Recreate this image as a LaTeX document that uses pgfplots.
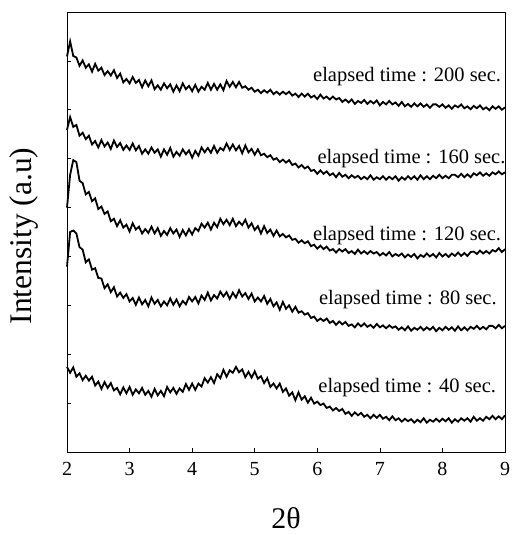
\documentclass[border=0pt]{standalone}
\usepackage{fontspec}
\setmainfont{Liberation Serif}
\usepackage{pgfplots}
\usepackage{pgfplotstable}
\pgfplotsset{compat=1.18}

% XRD patterns, one column per elapsed time (a=40 s ... e=200 s)
\pgfplotstableread{
x a b c d e
2.00 1.74 3.79 5.00 6.59 8.09
2.05 1.62 4.50 5.67 6.85 8.40
2.10 1.73 4.53 5.97 6.65 8.10
2.15 1.54 4.47 5.93 6.69 8.07
2.20 1.61 4.19 5.55 6.47 7.90
2.25 1.47 4.14 5.50 6.53 8.01
2.30 1.56 3.88 5.27 6.40 7.86
2.35 1.46 3.94 5.32 6.47 7.93
2.40 1.54 3.73 5.13 6.29 7.78
2.45 1.36 3.76 5.19 6.36 7.94
2.50 1.44 3.56 4.97 6.23 7.80
2.55 1.29 3.55 5.02 6.38 7.86
2.60 1.43 3.35 4.87 6.25 7.71
2.65 1.31 3.43 4.92 6.33 7.79
2.70 1.41 3.27 4.72 6.20 7.70
2.75 1.26 3.37 4.77 6.37 7.81
2.80 1.31 3.18 4.62 6.24 7.65
2.85 1.18 3.26 4.74 6.32 7.74
2.90 1.32 3.15 4.59 6.18 7.56
2.95 1.20 3.23 4.65 6.27 7.63
3.00 1.33 3.08 4.51 6.18 7.54
3.05 1.17 3.15 4.68 6.31 7.67
3.10 1.28 3.01 4.55 6.17 7.55
3.15 1.20 3.16 4.61 6.26 7.61
3.20 1.31 3.02 4.47 6.10 7.46
3.25 1.17 3.11 4.56 6.19 7.60
3.30 1.25 2.98 4.48 6.10 7.48
3.35 1.13 3.16 4.61 6.23 7.60
3.40 1.29 3.03 4.47 6.12 7.42
3.45 1.16 3.11 4.58 6.19 7.50
3.50 1.25 2.98 4.42 6.04 7.41
3.55 1.14 3.08 4.52 6.19 7.54
3.60 1.33 3.00 4.44 6.08 7.44
3.65 1.22 3.14 4.58 6.22 7.52
3.70 1.31 3.01 4.47 6.04 7.37
3.75 1.19 3.12 4.55 6.14 7.50
3.80 1.30 2.98 4.40 6.06 7.38
3.85 1.23 3.09 4.54 6.19 7.54
3.90 1.39 3.02 4.43 6.09 7.42
3.95 1.27 3.17 4.56 6.17 7.49
4.00 1.40 3.08 4.45 6.02 7.38
4.05 1.27 3.17 4.58 6.16 7.51
4.10 1.40 3.04 4.52 6.06 7.37
4.15 1.34 3.20 4.67 6.23 7.47
4.20 1.51 3.11 4.59 6.13 7.41
4.25 1.42 3.26 4.69 6.22 7.55
4.30 1.53 3.10 4.55 6.12 7.41
4.35 1.41 3.21 4.69 6.26 7.53
4.40 1.59 3.14 4.60 6.12 7.41
4.45 1.51 3.28 4.77 6.22 7.52
4.50 1.68 3.18 4.66 6.17 7.40
4.55 1.54 3.27 4.75 6.31 7.59
4.60 1.67 3.13 4.64 6.18 7.47
4.65 1.62 3.26 4.77 6.29 7.57
4.70 1.74 3.16 4.62 6.17 7.46
4.75 1.63 3.31 4.71 6.26 7.57
4.80 1.69 3.18 4.64 6.11 7.45
4.85 1.53 3.25 4.75 6.27 7.48
4.90 1.64 3.13 4.59 6.13 7.41
4.95 1.52 3.24 4.68 6.20 7.45
5.00 1.65 3.08 4.54 6.08 7.37
5.05 1.50 3.16 4.62 6.19 7.41
5.10 1.55 3.08 4.47 6.07 7.34
5.15 1.41 3.19 4.62 6.10 7.40
5.20 1.51 3.03 4.48 6.03 7.35
5.25 1.33 3.13 4.55 6.07 7.41
5.30 1.40 2.98 4.42 5.98 7.32
5.35 1.30 3.06 4.53 6.01 7.37
5.40 1.40 2.91 4.41 5.93 7.31
5.45 1.23 3.07 4.46 5.98 7.37
5.50 1.30 2.93 4.39 5.92 7.32
5.55 1.15 3.00 4.43 5.97 7.37
5.60 1.22 2.87 4.34 5.87 7.29
5.65 1.06 2.97 4.36 5.90 7.33
5.70 1.22 2.85 4.28 5.82 7.26
5.75 1.07 2.88 4.33 5.87 7.33
5.80 1.14 2.81 4.27 5.80 7.27
5.85 1.01 2.84 4.31 5.84 7.33
5.90 1.11 2.74 4.21 5.75 7.25
5.95 0.99 2.77 4.24 5.77 7.29
6.00 1.03 2.68 4.16 5.69 7.22
6.05 0.96 2.73 4.22 5.76 7.31
6.10 0.99 2.68 4.15 5.69 7.23
6.15 0.90 2.73 4.20 5.74 7.27
6.20 0.93 2.64 4.12 5.66 7.21
6.25 0.85 2.68 4.15 5.70 7.27
6.30 0.90 2.60 4.08 5.62 7.21
6.35 0.84 2.67 4.15 5.71 7.24
6.40 0.88 2.61 4.10 5.63 7.16
6.45 0.78 2.66 4.15 5.67 7.21
6.50 0.82 2.58 4.07 5.60 7.15
6.55 0.74 2.61 4.11 5.66 7.21
6.60 0.81 2.55 4.05 5.61 7.12
6.65 0.75 2.63 4.14 5.65 7.18
6.70 0.80 2.57 4.06 5.58 7.14
6.75 0.72 2.63 4.11 5.63 7.20
6.80 0.76 2.56 4.05 5.58 7.12
6.85 0.69 2.60 4.11 5.66 7.18
6.90 0.76 2.54 4.06 5.57 7.13
6.95 0.70 2.62 4.09 5.62 7.19
7.00 0.76 2.55 4.02 5.58 7.09
7.05 0.68 2.59 4.07 5.64 7.16
7.10 0.72 2.53 4.02 5.57 7.11
7.15 0.65 2.59 4.09 5.63 7.18
7.20 0.73 2.54 4.00 5.58 7.11
7.25 0.65 2.57 4.05 5.64 7.15
7.30 0.69 2.50 4.01 5.55 7.08
7.35 0.62 2.55 4.06 5.62 7.16
7.40 0.68 2.49 3.98 5.57 7.07
7.45 0.63 2.57 4.04 5.64 7.12
7.50 0.67 2.48 3.99 5.58 7.06
7.55 0.60 2.54 4.05 5.64 7.13
7.60 0.66 2.50 3.96 5.57 7.07
7.65 0.61 2.56 4.03 5.66 7.13
7.70 0.69 2.49 3.99 5.58 7.06
7.75 0.60 2.55 4.06 5.64 7.11
7.80 0.66 2.50 4.00 5.58 7.04
7.85 0.62 2.56 4.05 5.65 7.11
7.90 0.68 2.47 3.98 5.60 7.11
7.95 0.62 2.54 4.07 5.67 7.06
8.00 0.68 2.49 4.00 5.60 7.11
8.05 0.63 2.56 4.05 5.65 7.04
8.10 0.69 2.50 3.99 5.60 7.09
8.15 0.60 2.55 4.06 5.67 7.02
8.20 0.67 2.48 4.01 5.67 7.09
8.25 0.62 2.57 4.08 5.62 7.05
8.30 0.69 2.49 4.01 5.69 7.11
8.35 0.64 2.55 4.07 5.62 7.03
8.40 0.69 2.49 4.01 5.68 7.07
8.45 0.62 2.56 4.09 5.62 7.01
8.50 0.72 2.52 4.10 5.70 7.08
8.55 0.64 2.58 4.05 5.66 7.03
8.60 0.69 2.51 4.12 5.72 7.09
8.65 0.64 2.56 4.06 5.65 7.01
8.70 0.72 2.51 4.11 5.70 7.05
8.75 0.67 2.58 4.06 5.65 6.99
8.80 0.74 2.58 4.13 5.72 7.07
8.85 0.67 2.53 4.10 5.68 7.02
8.90 0.73 2.60 4.17 5.74 7.07
8.95 0.67 2.53 4.09 5.68 7.00
9.00 0.75 2.58 4.15 5.72 7.05
}\xrd

\begin{document}
\begin{tikzpicture}
\begin{axis}[name=ax,
  scale only axis, width=438pt, height=440pt,
  xmin=2, xmax=9, ymin=0, ymax=9,
  xtick={2,...,9}, ytick={1,...,8}, yticklabels={},
  tick pos=left, tick align=inside, major tick length=4pt,
  axis line style={line width=0.8pt}, tick style={black,line width=0.6pt},
  ticklabel style={font=\fontsize{20}{23}\selectfont},
  /pgf/number format/assume math mode=true,
  xticklabel shift=7pt,
  xlabel={2θ},
  xlabel style={font=\fontsize{30}{34}\selectfont, inner sep=0pt,
    at={(axis description cs:0.5,-0.150)}, anchor=center},
  ylabel={Intensity (a.u)},
  ylabel style={font=\fontsize{31.5}{36}\selectfont, inner sep=0pt,
    at={(axis description cs:-0.0993,0.491)}, anchor=center},
  clip=false]
\addplot[black, line width=1.8pt] table[x=x,y=a]{\xrd};
\addplot[black, line width=1.8pt] table[x=x,y=b]{\xrd};
\addplot[black, line width=1.8pt] table[x=x,y=c]{\xrd};
\addplot[black, line width=1.8pt] table[x=x,y=d]{\xrd};
\addplot[black, line width=1.8pt] table[x=x,y=e]{\xrd};
\begin{scope}[every node/.style={anchor=base east, inner sep=0pt,
    font=\fontsize{20.5}{24}\selectfont}]
\node at (axis cs:8.94,7.57) {elapsed time : 200 sec.};
\node at (axis cs:9.01,5.91) {elapsed time : 160 sec.};
\node at (axis cs:8.94,4.33) {elapsed time : 120 sec.};
\node at (axis cs:8.87,3.01) {elapsed time : 80 sec.};
\node at (axis cs:8.86,1.21) {elapsed time : 40 sec.};
\end{scope}
\end{axis}
\pgfresetboundingbox
\path[use as bounding box] ([shift={(-67pt,-83pt)}]ax.south west)
  rectangle ([shift={(7pt,12pt)}]ax.north east);
\end{tikzpicture}
\end{document}
